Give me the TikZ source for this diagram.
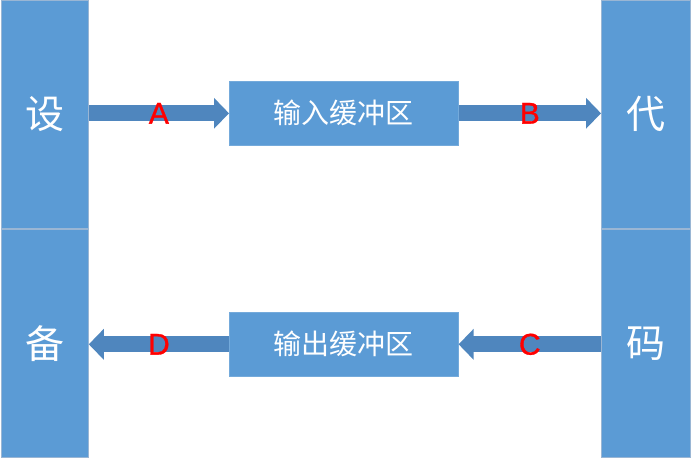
\documentclass[tikz,border=0pt]{standalone}
\usepackage{fontspec}
\setmainfont{Liberation Sans}
\newfontfamily\cjk{Noto Sans CJK SC}
\newfontfamily\tagfont[FakeBold=1]{Liberation Sans}
\usetikzlibrary{arrows.meta}
\definecolor{barblue}{HTML}{5B9BD5}
\definecolor{arrowblue}{HTML}{4F86BE}
\definecolor{edgeblue}{HTML}{9AB6D4}
\tikzset{
  bar/.style={fill=barblue, draw=edgeblue, line width=0.8pt, anchor=north west,
    minimum width=87pt, minimum height=228pt, inner sep=0pt,
    text=white, font=\cjk\fontsize{39}{39}\selectfont},
  buffer/.style={fill=barblue, draw=barblue!85!white, line width=0.6pt, anchor=north west,
    minimum width=229pt, minimum height=64pt, inner sep=0pt,
    text=white, font=\cjk\fontsize{28}{28}\selectfont},
  flow/.style={draw=arrowblue, line width=16pt,
    -{Triangle[width=30pt,length=15pt]}},
  tag/.style={text=red, font=\tagfont\fontsize{30}{30}\selectfont, inner sep=0pt}
}
\begin{document}
\begin{tikzpicture}[x=1pt,y=-1pt]
  \fill[white] (0,0) rectangle (691,461);
  \useasboundingbox (0,0) rectangle (691,461);

  % device column (left) and code column (right)
  \node[bar] (devtop) at (1,0) {设};
  \node[bar] (devbot) at (1,229) {备};
  \node[bar, minimum width=89pt] (codetop) at (601,0) {代};
  \node[bar, minimum width=89pt] (codebot) at (601,229) {码};

  % buffers
  \node[buffer] (inbuf) at (229,81) {输入缓冲区};
  \node[buffer] (outbuf) at (229,312) {输出缓冲区};

  % data flow
  \draw[flow] (devtop.east |- inbuf.west) -- (inbuf.west)
    node[tag, midway] {A};
  \draw[flow] (inbuf.east) -- (codetop.west |- inbuf.east)
    node[tag, midway] {B};
  \draw[flow] (codebot.west |- outbuf.east) -- (outbuf.east)
    node[tag, midway] {C};
  \draw[flow] (outbuf.west) -- (devbot.east |- outbuf.west)
    node[tag, midway] {D};
\end{tikzpicture}
\end{document}
